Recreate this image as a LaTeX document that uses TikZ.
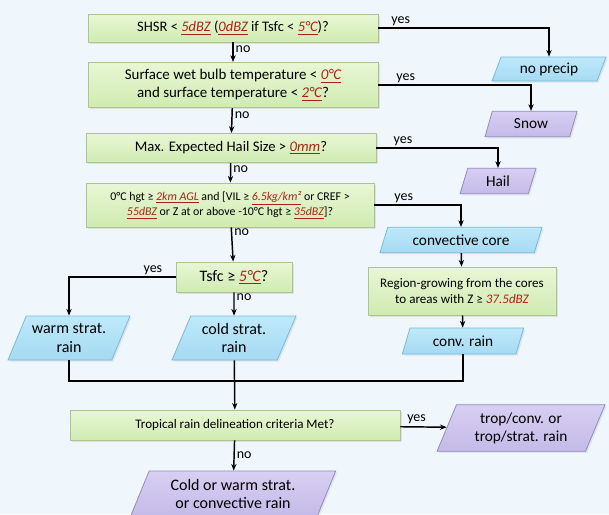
\documentclass[tikz,border=0pt]{standalone}
\usepackage{fontspec}
\setmainfont{Carlito}
\usetikzlibrary{shapes.geometric,arrows.meta,shadows}

\definecolor{bgblue}{RGB}{239,246,252}
\definecolor{testtop}{RGB}{232,247,212}
\definecolor{testbot}{RGB}{208,235,178}
\definecolor{testline}{RGB}{172,196,142}
\definecolor{outtop}{RGB}{190,233,250}
\definecolor{outbot}{RGB}{165,218,243}
\definecolor{outline}{RGB}{120,186,216}
\definecolor{endtop}{RGB}{216,207,243}
\definecolor{endbot}{RGB}{196,186,232}
\definecolor{endline}{RGB}{148,138,192}
\definecolor{critred}{RGB}{168,36,24}

\newcommand{\crit}[1]{{\color{critred}\itshape\underline{#1}}}

\tikzset{every picture/.style={line width=0.75pt}}
\tikzset{
  testbox/.style={draw=testline, line width=0.6pt, top color=testtop, bottom color=testbot,
    align=center, inner sep=2pt,
    drop shadow={opacity=0.18, shadow xshift=1.2pt, shadow yshift=-1.2pt}},
  outbox/.style={trapezium, trapezium left angle=60, trapezium right angle=120,
    trapezium stretches body, draw=outline, line width=0.6pt,
    top color=outtop, bottom color=outbot, align=center, inner sep=1pt,
    font=\fontsize{11.5}{13.5}\selectfont,
    drop shadow={opacity=0.15, shadow xshift=1.2pt, shadow yshift=-1.2pt}},
  endbox/.style={outbox, draw=endline, top color=endtop, bottom color=endbot},
  flow/.style={draw=black, line width=1.1pt, -{Stealth[length=5pt,width=4pt]}},
  joint/.style={draw=black, line width=1.1pt},
  lbl/.style={font=\fontsize{10.5}{12}\selectfont, inner sep=1.5pt}
}

\begin{document}
\begin{tikzpicture}[x=0.75pt,y=0.75pt,yscale=-1,xscale=1]
	\fill[bgblue] (0,0) rectangle (609,514);
	\useasboundingbox (0,0) rectangle (609,514);

	%Shape: Rectangle [tests]
	\node[testbox, minimum width=217.5pt, minimum height=21pt, font=\fontsize{10.9}{13}\selectfont] (shsr) at (233,28)
	  {SHSR < \crit{5dBZ} (\crit{0dBZ} if Tsfc < \crit{5°C})?};
	\node[testbox, minimum width=217.5pt, minimum height=34pt, font=\fontsize{11.2}{13.5}\selectfont] (wetbulb) at (233,85)
	  {Surface wet bulb temperature < \crit{0°C}\\ and surface temperature < \crit{2°C}?};
	\node[testbox, minimum width=217.5pt, minimum height=22pt, font=\fontsize{11}{13}\selectfont] (hailsize) at (231,148)
	  {Max. Expected Hail Size > \crit{0mm}?};
	\node[testbox, minimum width=216pt, minimum height=33pt, font=\fontsize{8.9}{11.5}\selectfont] (zerohgt) at (230,205)
	  {0°C hgt ≥ \crit{2km AGL} and [VIL ≥ \crit{6.5kg/km²} or CREF >\\ \crit{55dBZ} or Z at or above -10°C hgt ≥ \crit{35dBZ}]?};
	\node[testbox, minimum width=87pt, minimum height=22.5pt, font=\fontsize{12}{13}\selectfont] (tsfc) at (234,277)
	  {Tsfc ≥ \crit{5°C}?};
	\node[testbox, minimum width=141pt, minimum height=36pt, font=\fontsize{9.8}{12.5}\selectfont] (grow) at (462,291)
	  {Region-growing from the cores\\ to areas with Z ≥ {\color{critred}\itshape 37.5dBZ}};
	\node[testbox, minimum width=247.5pt, minimum height=22.5pt, font=\fontsize{9.8}{11}\selectfont] (tropic) at (235,425)
	  {Tropical rain delineation criteria Met?};

	%Shape: Parallelogram [outcomes]
	\node[outbox, minimum width=85.5pt, minimum height=18pt] (noprecip) at (549,69) {no precip};
	\node[endbox, minimum width=69pt, minimum height=19pt] (snow) at (531,124) {Snow};
	\node[endbox, minimum width=57pt, minimum height=19pt] (hail) at (498,181) {Hail};
	\node[outbox, minimum width=121.5pt, minimum height=19pt] (core) at (461,240) {convective core};
	\node[outbox, minimum width=91pt, minimum height=19.5pt] (convrain) at (463,341) {conv. rain};
	\node[outbox, minimum width=91.5pt, minimum height=33pt, font=\fontsize{12}{14}\selectfont] (warm) at (69,338) {warm strat.\\ rain};
	\node[outbox, minimum width=93pt, minimum height=33pt, font=\fontsize{12}{14}\selectfont] (cold) at (234,338) {cold strat.\\ rain};
	\node[endbox, minimum width=126pt, minimum height=35pt] (troprain) at (521,428) {trop/conv. or\\ trop/strat. rain};
	\node[endbox, minimum width=154pt, minimum height=34.5pt, font=\fontsize{12}{14}\selectfont] (mixrain) at (233,494) {Cold or warm strat.\\ or convective rain};

	\coordinate (merge) at (234,381);

	%Straight Lines [yes branches]
	\draw[flow] (shsr) -| node[lbl, pos=0.03, above right] {yes} (noprecip);
	\draw[flow] (wetbulb) -| node[lbl, pos=0.05, above right] {yes} (snow);
	\draw[flow] (hailsize) -| node[lbl, pos=0.06, above right] {yes} (hail);
	\draw[flow] (zerohgt) -| node[lbl, pos=0.1, above right] {yes} (core);
	\draw[flow] (tsfc) -| node[lbl, pos=0.05, above left] {yes} (warm);
	\draw[flow] (tropic) -- node[lbl, pos=0.35, above] {yes} (troprain);

	%Straight Lines [no branches]
	\draw[flow] (shsr) -- node[lbl, pos=0.35, right] {no} (wetbulb);
	\draw[flow] (wetbulb) -- node[lbl, pos=0.3, right] {no} (hailsize);
	\draw[flow] (hailsize) -- node[lbl, pos=0.3, right] {no} (zerohgt);
	\draw[flow] (zerohgt) -- node[lbl, pos=0.15, right] {no} (tsfc);
	\draw[flow] (tsfc) -- node[lbl, pos=0.2, right] {no} (cold);
	\draw[flow] (tropic) -- node[lbl, pos=0.5, right] {no} (mixrain);

	%Straight Lines [convective path]
	\draw[flow] (core) -- (grow);
	\draw[flow] (grow) -- (convrain);

	%Straight Lines [merge]
	\draw[joint] (warm) |- (merge) -| (convrain);
	\draw[flow] (cold) -- (tropic);

\end{tikzpicture}
\end{document}
